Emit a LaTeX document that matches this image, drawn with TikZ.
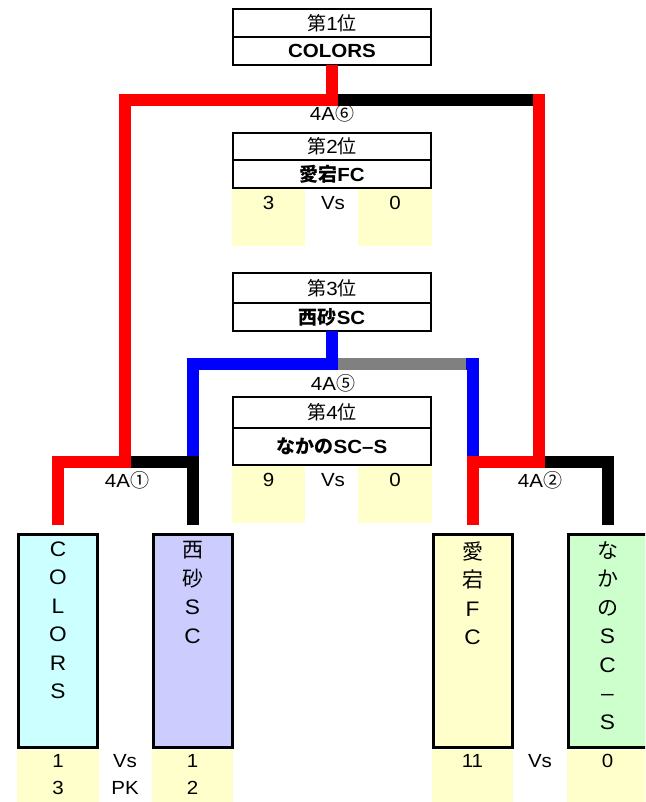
\documentclass[tikz,border=0pt]{standalone}
\usepackage{fontspec}
\setmainfont{Liberation Sans}[FakeStretch=1.08]
\newfontfamily\jp{Noto Sans CJK JP}
\usetikzlibrary{positioning}
\definecolor{cellyel}{HTML}{FFFFCC}
\definecolor{teamcyan}{HTML}{CCFFFF}
\definecolor{teamblue}{HTML}{CCCCFF}
\definecolor{teamyel}{HTML}{FFFFCC}
\definecolor{teamgreen}{HTML}{CCFFCC}
\definecolor{bargray}{HTML}{808080}
\begin{document}
\begin{tikzpicture}[x=1pt,y=-1pt]
  \tikzstyle{every node}+=[inner sep=0pt, outer sep=0pt]
  \tikzstyle{rankrow}=[draw, line width=2.8pt, fill=white, minimum width=198pt, font=\fontsize{19}{19}\selectfont]
  \tikzstyle{teambox}=[draw, line width=3pt, minimum width=79pt, minimum height=213pt]
  \tikzstyle{vtext}=[align=center, anchor=north, font=\fontsize{21}{28.5}\selectfont]
  \tikzstyle{cell}=[fill=cellyel]
  \tikzstyle{score}=[anchor=north, font=\fontsize{19}{19}\selectfont]
  \tikzstyle{round}=[font=\fontsize{19}{19}\selectfont]
  \tikzstyle{bar}=[line width=12pt]
  \useasboundingbox (0,0) rectangle (645,802);
  \clip (0,0) rectangle (645,802);
  \node[rankrow, minimum height=28pt] (r1a) at (332,23) {{\jp 第}1{\jp 位}};
  \node[rankrow, minimum height=28pt, below=0pt of r1a] (r1b) {\textbf{COLORS}};
  \node[rankrow, minimum height=27pt] (r2a) at (332,146.5) {{\jp 第}2{\jp 位}};
  \node[rankrow, minimum height=28pt, below=0pt of r2a] (r2b) {\textbf{{\jp\bfseries 愛宕}FC}};
  \node[rankrow, minimum height=30pt] (r3a) at (332,288) {{\jp 第}3{\jp 位}};
  \node[rankrow, minimum height=28pt, below=0pt of r3a] (r3b) {\textbf{{\jp\bfseries 西砂}SC}};
  \node[rankrow, minimum height=31pt] (r4a) at (332,412.5) {{\jp 第}4{\jp 位}};
  \node[rankrow, minimum height=37pt, below=0pt of r4a] (r4b) {\textbf{{\jp\bfseries なかの}SC--S}};
  \node[cell, minimum width=73pt, minimum height=57pt, anchor=north west] (c2l) at (232,189) {};
  \node[cell, minimum width=74pt, minimum height=57pt, anchor=north east] (c2r) at (432,189) {};
  \node[score] at ([yshift=-7pt]c2l.north) {3};
  \node[score] at (333,196) {Vs};
  \node[score] at ([yshift=-7pt]c2r.north) {0};
  \node[cell, minimum width=73pt, minimum height=57pt, anchor=north west] (c4l) at (232,466) {};
  \node[cell, minimum width=74pt, minimum height=57pt, anchor=north east] (c4r) at (432,466) {};
  \node[score] at ([yshift=-7pt]c4l.north) {9};
  \node[score] at (333,473) {Vs};
  \node[score] at ([yshift=-7pt]c4r.north) {0};
  \node[teambox, fill=teamcyan] (colors) at (58,641) {};
  \node[teambox, fill=teamblue] (nishi) at (192.5,641) {};
  \node[teambox, fill=teamyel] (atago) at (472.5,641) {};
  \node[teambox, fill=teamgreen] (nakano) at (607.5,641) {};
  \node[vtext] at ([yshift=-7pt]colors.north) {C\\O\\L\\O\\R\\S};
  \node[vtext] at ([yshift=-7pt]nishi.north) {{\jp 西}\\{\jp 砂}\\S\\C};
  \node[vtext] at ([yshift=-7pt]atago.north) {{\jp 愛}\\{\jp 宕}\\F\\C};
  \node[vtext] at ([yshift=-7pt]nakano.north) {{\jp な}\\{\jp か}\\{\jp の}\\S\\C\\--\\S};
  \node[cell, minimum width=82pt, minimum height=53pt, anchor=north] (s1) at (58,750) {};
  \node[cell, minimum width=81pt, minimum height=53pt, anchor=north] (s2) at (192.5,750) {};
  \node[cell, minimum width=81pt, minimum height=53pt, anchor=north] (s3) at (472.5,750) {};
  \node[cell, minimum width=81pt, minimum height=53pt, anchor=north] (s4) at (607.5,750) {};
  \node[score, align=center, font=\fontsize{19}{27}\selectfont] at ([yshift=-4pt]s1.north) {1\\3};
  \node[score, align=center, font=\fontsize{19}{27}\selectfont] at (125,754) {Vs\\PK};
  \node[score, align=center, font=\fontsize{19}{27}\selectfont] at ([yshift=-4pt]s2.north) {1\\2};
  \node[score] at ([yshift=-4pt]s3.north) {11};
  \node[score] at (540,754) {Vs};
  \node[score] at ([yshift=-4pt]s4.north) {0};
  \coordinate (fj) at (332,100);
  \coordinate (lj) at (125,462);
  \coordinate (rj) at (539,462);
  \coordinate (tj) at (332,364);
  \draw[bar, red] (r1b.south) -- (fj) -| (lj) -| ([yshift=10pt]colors.north);
  \draw[bar] ([xshift=6pt]fj) -- (533,100);
  \draw[bar, red] (533,100) -| (rj) -| ([yshift=10pt]atago.north);
  \draw[bar] ([xshift=6pt]lj) -| ([yshift=10pt]nishi.north);
  \draw[bar] ([xshift=6pt]rj) -| ([yshift=10pt]nakano.north);
  \draw[bar, blue] (r3b.south) -- (tj) -| (192.5,456);
  \draw[bar, bargray] ([xshift=6pt]tj) -- (466,364);
  \draw[bar, blue] (466,364) -| (472.5,456);
  \node[round] at (332,113) {4A{\jp ⑥}};
  \node[round] at (333,383) {4A{\jp ⑤}};
  \node[round] at (127,480) {4A{\jp ①}};
  \node[round] at (540,480) {4A{\jp ②}};
\end{tikzpicture}
\end{document}
